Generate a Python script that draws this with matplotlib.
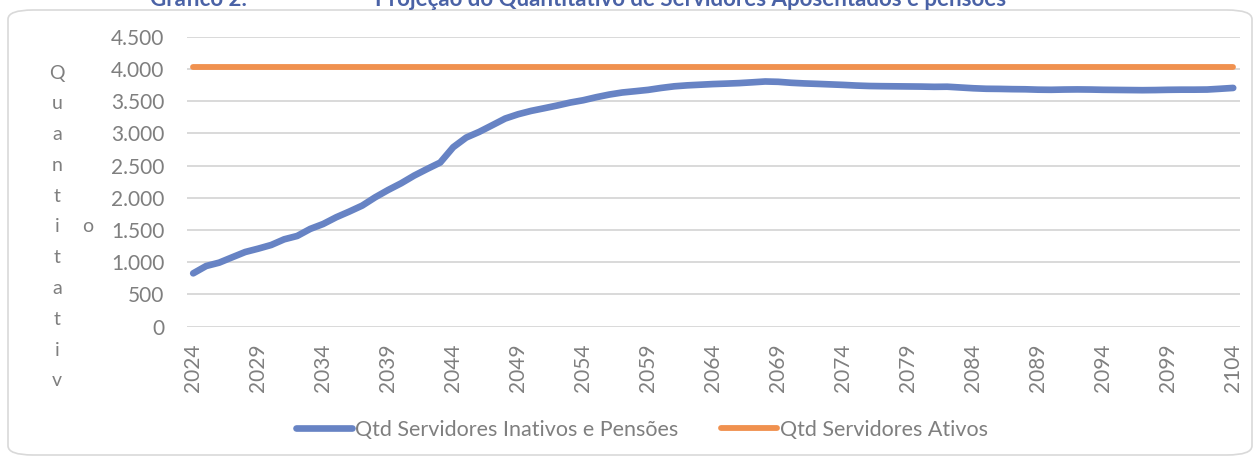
import matplotlib
matplotlib.use("Agg")
import matplotlib.pyplot as plt
from matplotlib.patches import FancyBboxPatch

anos = list(range(2024, 2105))
inativos = [828, 942, 994, 1077, 1159, 1211, 1268, 1356, 1408, 1517,
            1594, 1698, 1786, 1879, 2008, 2122, 2226, 2345, 2448, 2547,
            2785, 2935, 3023, 3126, 3230, 3297, 3349, 3390, 3432, 3478,
            3514, 3561, 3602, 3634, 3654, 3675,
            3705, 3730, 3745, 3755, 3765, 3772, 3780, 3792, 3805, 3800,
            3785, 3775, 3768, 3760, 3752, 3742, 3735, 3732, 3730, 3728,
            3726, 3722, 3724, 3712, 3700, 3692, 3690, 3686, 3684, 3678,
            3676, 3680, 3682, 3680, 3676, 3674, 3672, 3670, 3672, 3676,
            3678, 3678, 3680, 3692, 3705]
ativos = [4030] * len(anos)
yticks = [0, 500, 1000, 1500, 2000, 2500, 3000, 3500, 4000, 4500]
ytick_labels = ["0", "500", "1.000", "1.500", "2.000", "2.500", "3.000", "3.500", "4.000", "4.500"]
xticks = anos[::5]

azul = "#6783c4"
laranja = "#f0914f"
cinza = "#7f7f7f"
grade = "#d9d9d9"

plt.rcParams['font.family'] = ['Lato', 'DejaVu Sans']

W, H = 1257, 459
fig = plt.figure(figsize=(W / 100, H / 100), dpi=100)

# moldura arredondada do grafico
borda = FancyBboxPatch((8 / W, 4 / H), 1244 / W, 445 / H,
                       boxstyle="round,pad=0,rounding_size=0.02",
                       transform=fig.transFigure, facecolor="none",
                       edgecolor=grade, linewidth=1.2, zorder=-1)
fig.patches.append(borda)

ax = fig.add_axes([186.7 / W, 1 - 326.7 / H, 1053 / W, 290 / H])
ax.set_facecolor("none")

ax.plot(anos, inativos, color=azul, lw=4.8, solid_capstyle="round",
        solid_joinstyle="round", label="Qtd Servidores Inativos e Pensões", zorder=3)
ax.plot(anos, ativos, color=laranja, lw=4.2, solid_capstyle="round",
        label="Qtd Servidores Ativos", zorder=3)

ax.set_xlim(2023.5, 2104.5)
ax.set_ylim(0, 4500)
ax.set_yticks(yticks)
ax.set_yticklabels(ytick_labels)
ax.set_xticks(xticks)
ax.set_xticklabels([str(a) for a in xticks], rotation=90)
ax.tick_params(axis="both", length=0, labelsize=15, labelcolor=cinza)
ax.tick_params(axis="y", pad=16)
ax.tick_params(axis="x", pad=12)
ax.grid(axis="y", color=grade, lw=1.4, zorder=0)
for s in ax.spines.values():
    s.set_visible(False)

# titulo do eixo quebrado letra a letra, como no original
letras = "Quantitativ"
for i, c in enumerate(letras):
    fig.text(57 / W, 1 - (73 + i * 30.8) / H, c, ha="center", va="center",
             fontsize=14, color=cinza)
fig.text(88 / W, 1 - 227 / H, "o", ha="center", va="center", fontsize=14, color=cinza)

# titulo cortado no topo
fig.text(150 / W, 1 - 6 / H, "Gráfico 2:", ha="left", va="baseline",
         fontsize=16, fontweight="bold", color="#4a62a6")
fig.text(375 / W, 1 - 6 / H, "Projeção do Quantitativo de Servidores Aposentados e pensões",
         ha="left", va="baseline", fontsize=16, fontweight="bold", color="#4a62a6")

leg = fig.legend(loc="center", bbox_to_anchor=(642 / W, 1 - 430 / H), ncol=2,
                 frameon=False, fontsize=15.5, handlelength=2.6, handletextpad=0.15,
                 columnspacing=2.0, labelcolor=cinza)

fig.savefig("out.png", dpi=100, facecolor="white")
